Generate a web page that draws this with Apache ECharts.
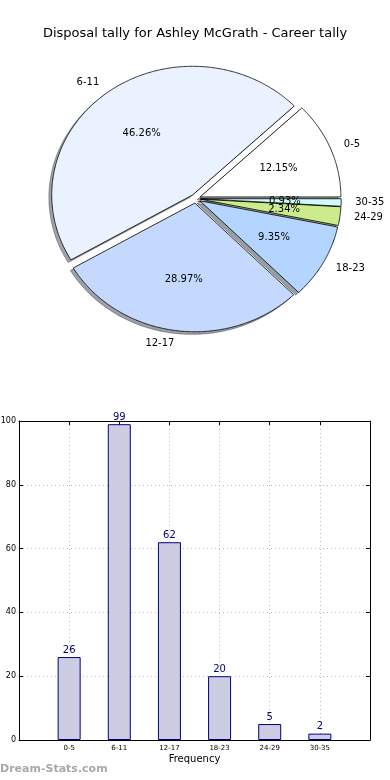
<!DOCTYPE html>
<html><head><meta charset="utf-8">
<script src="https://cdn.jsdelivr.net/npm/echarts@6/dist/echarts.min.js"></script>
<style>html,body{margin:0;padding:0;background:#fff}#c{width:390px;height:780px}</style>
</head><body><div id="c"></div>
<script>
const categories = ['0-5', '6-11', '12-17', '18-23', '24-29', '30-35'];
const frequency = [26, 99, 62, 20, 5, 2];
const pieColors = ['#ffffff', '#eaf1ff', '#c5d9ff', '#b3d5ff', '#cceb8a', '#d0fbfd'];
const yTicks = [0, 20, 40, 60, 80, 100];
const titleText = 'Disposal tally for Ashley McGrath - Career tally';
const watermark = 'Dream-Stats.com';

const FONT = 'DejaVu Sans';
const PIE = {cx: 195.5, cy: 198.6, rx: 140.8, ry: 128.7, explode: 0.035, shadow: 0.02, labelDist: 1.1, pctDist: 0.6};
const total = frequency.reduce((a, b) => a + b, 0);
const angles = [];
let acc = 0;
frequency.forEach(v => { const s = acc / total * 2 * Math.PI; acc += v; angles.push([s, acc / total * 2 * Math.PI]); });

function wedge(i, dx, dy) {
  const a0 = angles[i][0], a1 = angles[i][1], mid = (a0 + a1) / 2;
  const ox = PIE.cx + PIE.explode * PIE.rx * Math.cos(mid) + dx;
  const oy = PIE.cy - PIE.explode * PIE.ry * Math.sin(mid) + dy;
  const pts = [[ox, oy]];
  const n = Math.max(3, Math.ceil((a1 - a0) / (Math.PI / 360)));
  for (let k = 0; k <= n; k++) {
    const a = a0 + (a1 - a0) * k / n;
    pts.push([ox + PIE.rx * Math.cos(a), oy - PIE.ry * Math.sin(a)]);
  }
  return {pts, ox, oy, mid};
}
function shade(hex) {
  const r = parseInt(hex.slice(1, 3), 16), g = parseInt(hex.slice(3, 5), 16), b = parseInt(hex.slice(5, 7), 16);
  return 'rgba(' + Math.round(r * 0.3) + ',' + Math.round(g * 0.3) + ',' + Math.round(b * 0.3) + ',0.5)';
}

const frameAxis = {
  axisLine: {show: true, onZero: false, lineStyle: {color: '#000', width: 1}},
  axisTick: {show: true, inside: true, length: 4, lineStyle: {color: '#000'}}
};
const gridLine = {show: true, lineStyle: {type: [1, 3], color: '#b8b8b8', width: 1}};

const chart = echarts.init(document.getElementById('c'), null, {renderer: 'canvas'});
const option = {
  animation: false,
  backgroundColor: '#fff',
  title: {text: titleText, left: 'center', top: 22, textStyle: {fontSize: 13, fontWeight: 'normal', color: '#000', fontFamily: FONT}},
  graphic: [{type: 'text', left: 0, top: 764, style: {text: watermark, fill: '#a8a8a8', font: 'bold 11px "DejaVu Sans"'}}],
  grid: {left: 19, right: 20, top: 421, bottom: 40, containLabel: false, outerBoundsMode: 'none'},
  xAxis: [Object.assign({
    type: 'value', min: -1, max: 6, interval: 1, position: 'bottom',
    axisLabel: {formatter: v => categories[v] || '', fontSize: 7, color: '#000', margin: 5, fontFamily: FONT},
    splitLine: gridLine,
    name: 'Frequency', nameLocation: 'middle', nameGap: 14, nameTextStyle: {fontSize: 10, color: '#000', fontFamily: FONT}
  }, frameAxis), Object.assign({
    type: 'value', min: -1, max: 6, interval: 1, position: 'top',
    axisLabel: {show: false}, splitLine: {show: false}
  }, frameAxis)],
  yAxis: [Object.assign({
    type: 'value', min: yTicks[0], max: yTicks[yTicks.length - 1], interval: yTicks[1] - yTicks[0], position: 'left',
    axisLabel: {fontSize: 8, color: '#000', margin: 3, fontFamily: FONT},
    splitLine: gridLine
  }, frameAxis), Object.assign({
    type: 'value', min: yTicks[0], max: yTicks[yTicks.length - 1], interval: yTicks[1] - yTicks[0], position: 'right',
    axisLabel: {show: false}, splitLine: {show: false}
  }, frameAxis)],
  series: [
    {
      type: 'custom', coordinateSystem: 'none', z: 1, silent: true,
      data: frequency,
      renderItem: function (params) {
        const i = params.dataIndex;
        const w = wedge(i, -PIE.shadow * PIE.rx, PIE.shadow * PIE.ry);
        const c = shade(pieColors[i]);
        return {type: 'polygon', shape: {points: w.pts}, style: {fill: c, stroke: c, lineWidth: 1}};
      }
    },
    {
      type: 'custom', coordinateSystem: 'none', z: 2, silent: true,
      data: frequency,
      renderItem: function (params) {
        const i = params.dataIndex;
        const w = wedge(i, 0, 0);
        return {type: 'polygon', shape: {points: w.pts}, style: {fill: pieColors[i], stroke: '#000', lineWidth: 0.8, lineJoin: 'miter'}};
      }
    },
    {
      type: 'custom', coordinateSystem: 'none', z: 3, silent: true,
      data: frequency,
      renderItem: function (params) {
        const i = params.dataIndex;
        const w = wedge(i, 0, 0);
        const c = Math.cos(w.mid), s = Math.sin(w.mid);
        const lx = w.ox + PIE.labelDist * PIE.rx * c, ly = w.oy - PIE.labelDist * PIE.ry * s;
        const px = w.ox + PIE.pctDist * PIE.rx * c, py = w.oy - PIE.pctDist * PIE.ry * s;
        const pct = (frequency[i] / total * 100).toFixed(2) + '%';
        return {type: 'group', children: [
          {type: 'text', style: {x: lx, y: ly, text: categories[i], fill: '#000', fontSize: 10, fontFamily: FONT, align: c < 0 ? 'right' : 'left', verticalAlign: 'middle'}},
          {type: 'text', style: {x: px, y: py, text: pct, fill: '#000', fontSize: 10, fontFamily: FONT, align: 'center', verticalAlign: 'middle'}}
        ]};
      }
    },
    {
      type: 'bar', xAxisIndex: 0, yAxisIndex: 0, barWidth: 23,
      data: frequency.map((v, i) => [i, v]),
      itemStyle: {color: '#cccce2', borderColor: '#000080', borderWidth: 1},
      label: {show: true, position: 'top', distance: 2, color: '#000080', fontSize: 10, fontFamily: FONT}
    }
  ]
};
chart.setOption(option);
</script></body></html>
